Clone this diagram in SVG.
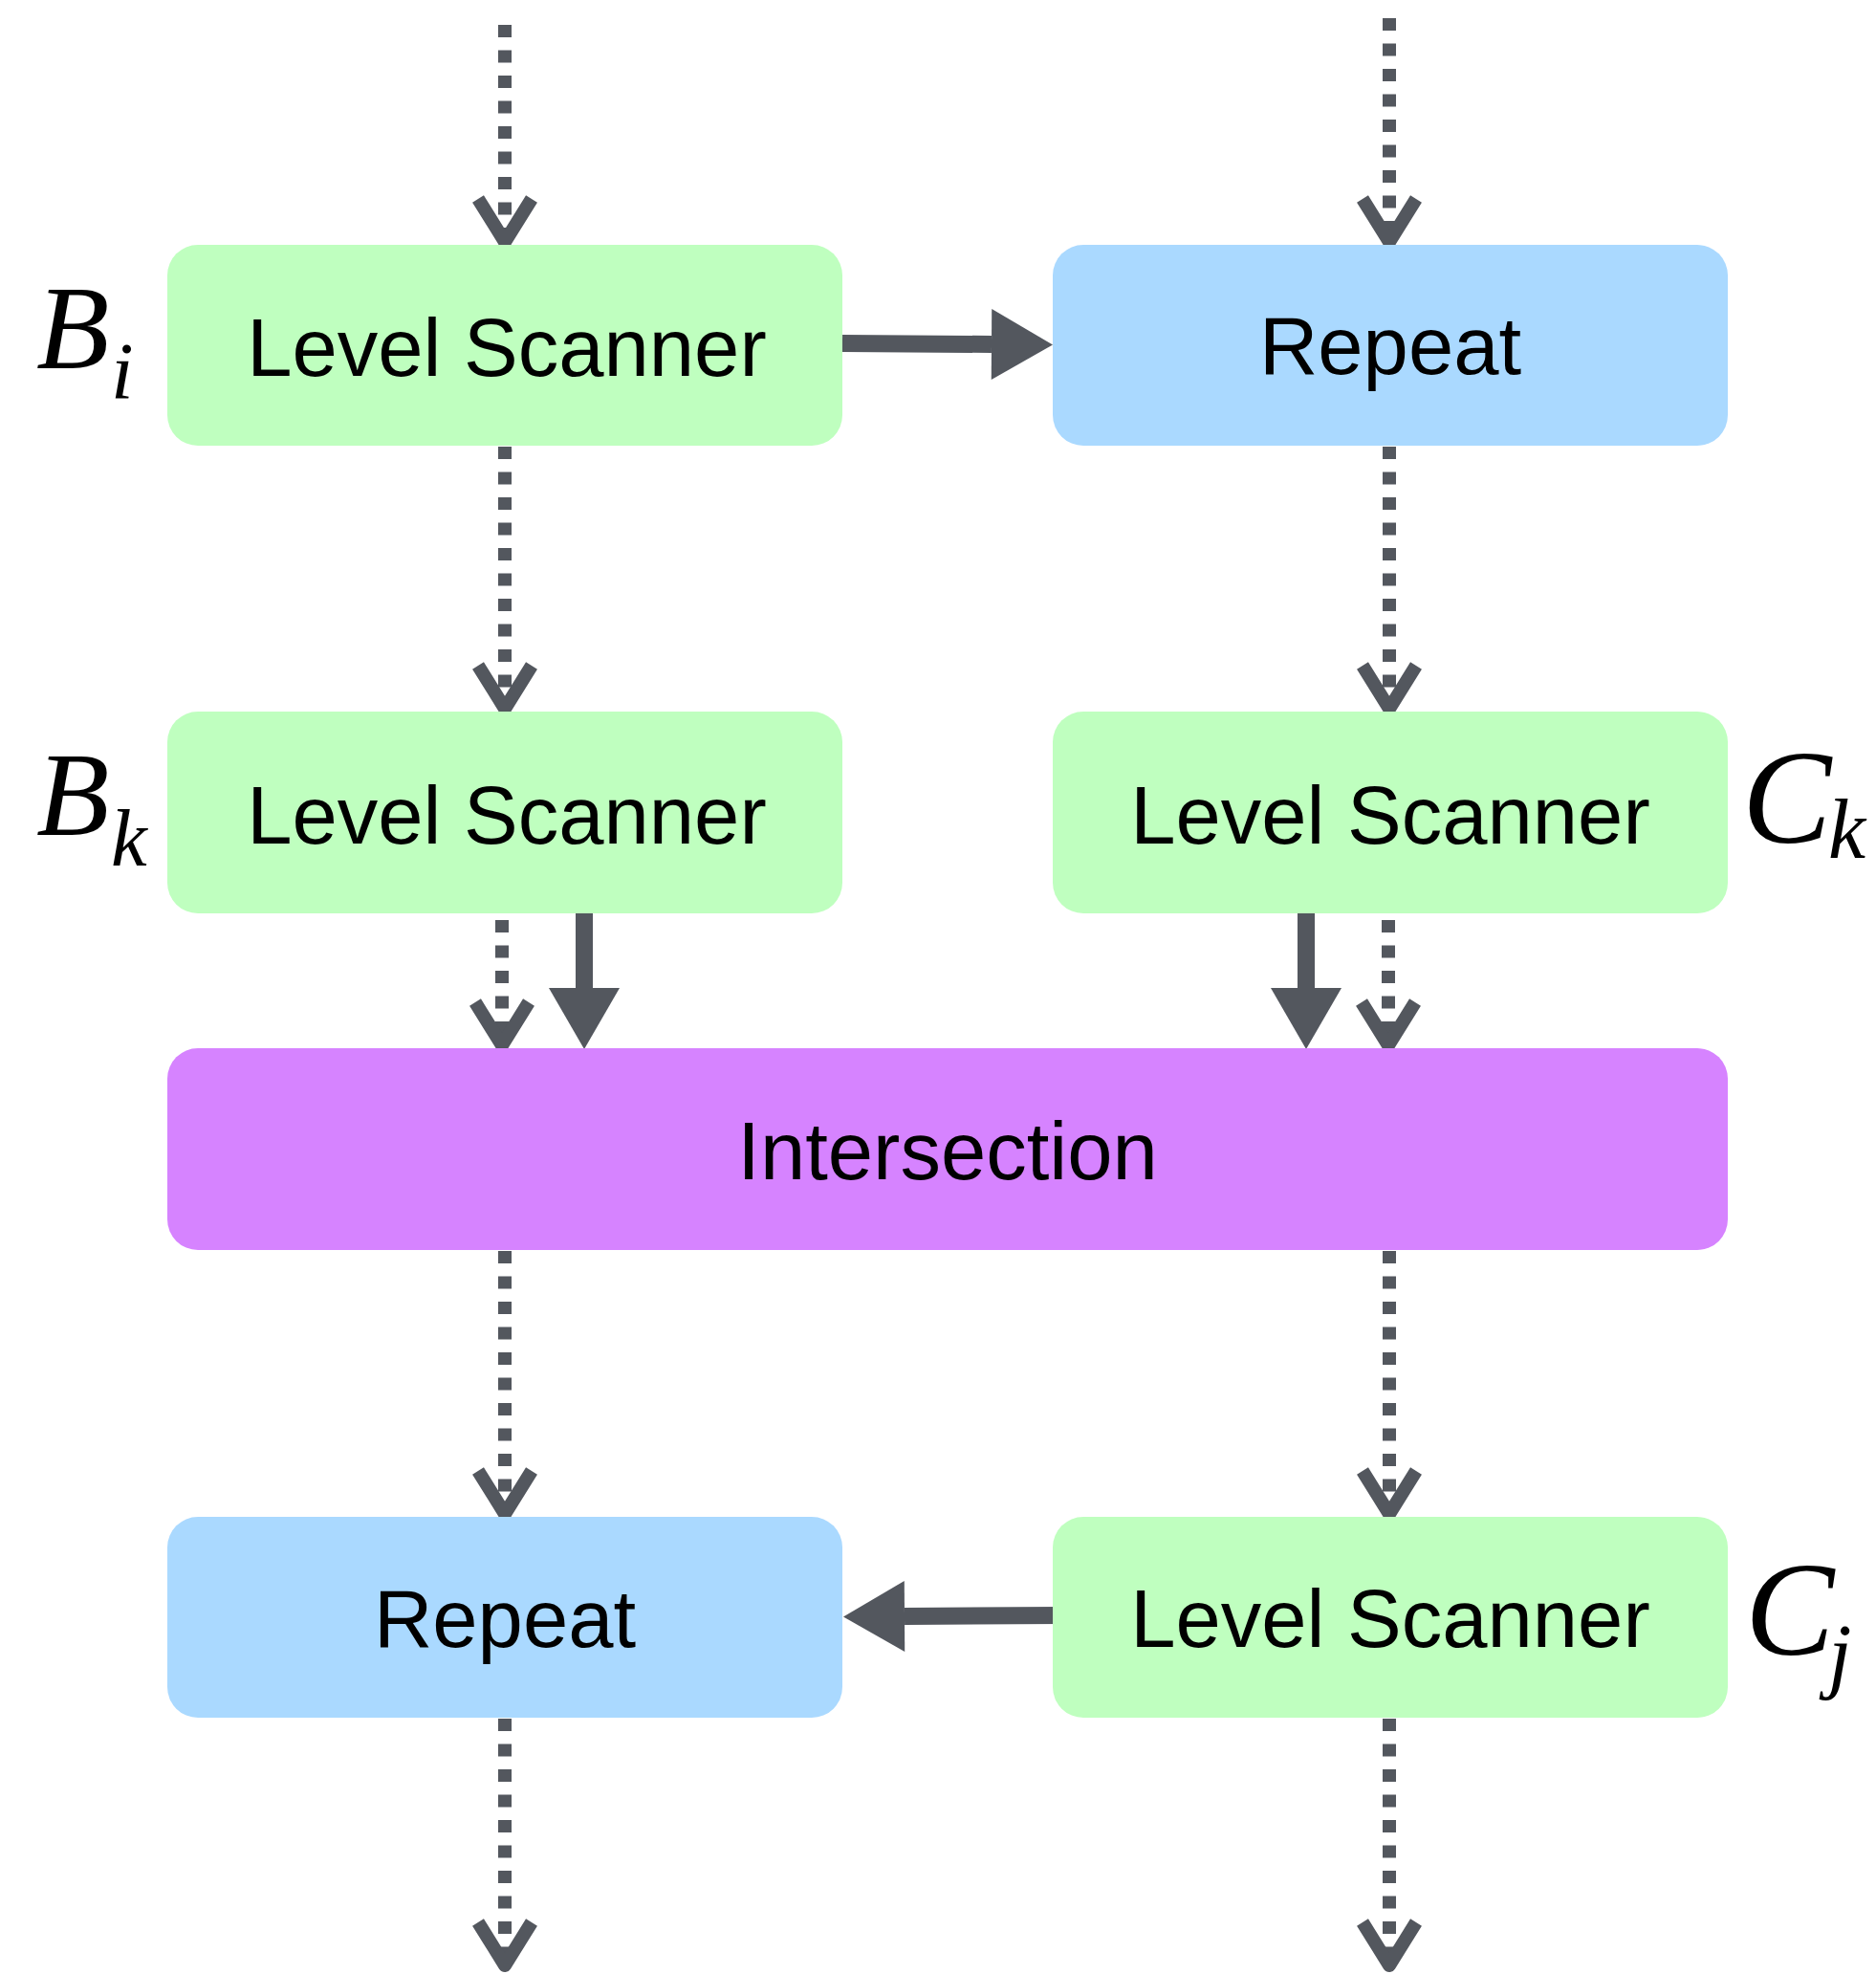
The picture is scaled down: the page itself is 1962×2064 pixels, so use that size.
<svg xmlns="http://www.w3.org/2000/svg" width="1962" height="2064" viewBox="0 0 1962 2064">
<style>
.box-green{fill:#bfffbf}
.box-blue{fill:#aad9ff}
.box-purple{fill:#d683ff}
.lbl{font-family:"Liberation Sans",Arial,Helvetica,sans-serif;font-size:85px;fill:#000;text-anchor:middle}
.math{font-family:"Liberation Serif","Times New Roman",serif;font-style:italic;fill:#000}
.dot{fill:none;stroke:#53575e;stroke-width:14;stroke-dasharray:13 13.5}
.solid{fill:none;stroke:#53575e;stroke-width:18}
</style>
<defs>
<marker id="chev" markerUnits="userSpaceOnUse" orient="auto" refX="0" refY="0" markerWidth="120" markerHeight="120" viewBox="-60 -60 120 120" overflow="visible">
<path d="M-45,-28 L0,0 L-45,28" fill="none" stroke="#53575e" stroke-width="14" stroke-linejoin="round" stroke-dasharray="none"/>
</marker>
<marker id="head" markerUnits="userSpaceOnUse" orient="auto" refX="0" refY="0" markerWidth="140" markerHeight="140" viewBox="-70 -70 140 140" overflow="visible">
<path d="M0,-37 L64,0 L0,37 Z" fill="#53575e"/>
</marker>
</defs>
<rect width="1962" height="2064" fill="#fff"/>
<g id="connectors">
<path class="dot" d="M528,26 L528,253" marker-end="url(#chev)"/>
<path class="dot" d="M1453,19 L1453,253" marker-end="url(#chev)"/>
<path class="dot" d="M528,467 L528,741" marker-end="url(#chev)"/>
<path class="dot" d="M1453,467 L1453,741" marker-end="url(#chev)"/>
<path class="dot" d="M525,962 L525,1093" marker-end="url(#chev)"/>
<path class="dot" d="M1452,962 L1452,1093" marker-end="url(#chev)"/>
<path class="solid" d="M611,955 L611,1033" marker-end="url(#head)"/>
<path class="solid" d="M1366,955 L1366,1033" marker-end="url(#head)"/>
<path class="dot" d="M528,1308 L528,1583" marker-end="url(#chev)"/>
<path class="dot" d="M1453,1308 L1453,1583" marker-end="url(#chev)"/>
<path class="dot" d="M528,1797 L528,2055" marker-end="url(#chev)"/>
<path class="dot" d="M1453,1797 L1453,2055" marker-end="url(#chev)"/>
<path class="solid" d="M881,359 L1037,360" marker-end="url(#head)"/>
<path class="solid" d="M1109,1689 L946,1690" marker-end="url(#head)"/>
</g>
<g id="node-bi">
<rect class="box-green" x="175" y="256" width="706" height="210" rx="32"/>
<text class="lbl" x="530" y="393">Level Scanner</text>
</g>
<g id="node-repeat-top">
<rect class="box-blue" x="1101" y="256" width="706" height="210" rx="32"/>
<text class="lbl" x="1454" y="391">Repeat</text>
</g>
<g id="node-bk">
<rect class="box-green" x="175" y="744" width="706" height="211" rx="32"/>
<text class="lbl" x="530" y="882">Level Scanner</text>
</g>
<g id="node-ck">
<rect class="box-green" x="1101" y="744" width="706" height="211" rx="32"/>
<text class="lbl" x="1454" y="882">Level Scanner</text>
</g>
<g id="node-intersection">
<rect class="box-purple" x="175" y="1096" width="1632" height="211" rx="32"/>
<text class="lbl" x="991" y="1233">Intersection</text>
</g>
<g id="node-repeat-bottom">
<rect class="box-blue" x="175" y="1586" width="706" height="210" rx="32"/>
<text class="lbl" x="528" y="1722">Repeat</text>
</g>
<g id="node-cj">
<rect class="box-green" x="1101" y="1586" width="706" height="210" rx="32"/>
<text class="lbl" x="1454" y="1722">Level Scanner</text>
</g>
<g id="labels">
<text class="math" x="38" y="385" font-size="125">B<tspan x="116" y="417" font-size="85">i</tspan></text>
<text class="math" x="38" y="873" font-size="125">B<tspan x="116" y="905" font-size="85">k</tspan></text>
<text class="math" x="1822" y="881" font-size="140">C<tspan x="1912" y="897" font-size="88">k</tspan></text>
<text class="math" x="1825" y="1730" font-size="140">C<tspan x="1912" y="1759" font-size="88">j</tspan></text>
</g>
</svg>
